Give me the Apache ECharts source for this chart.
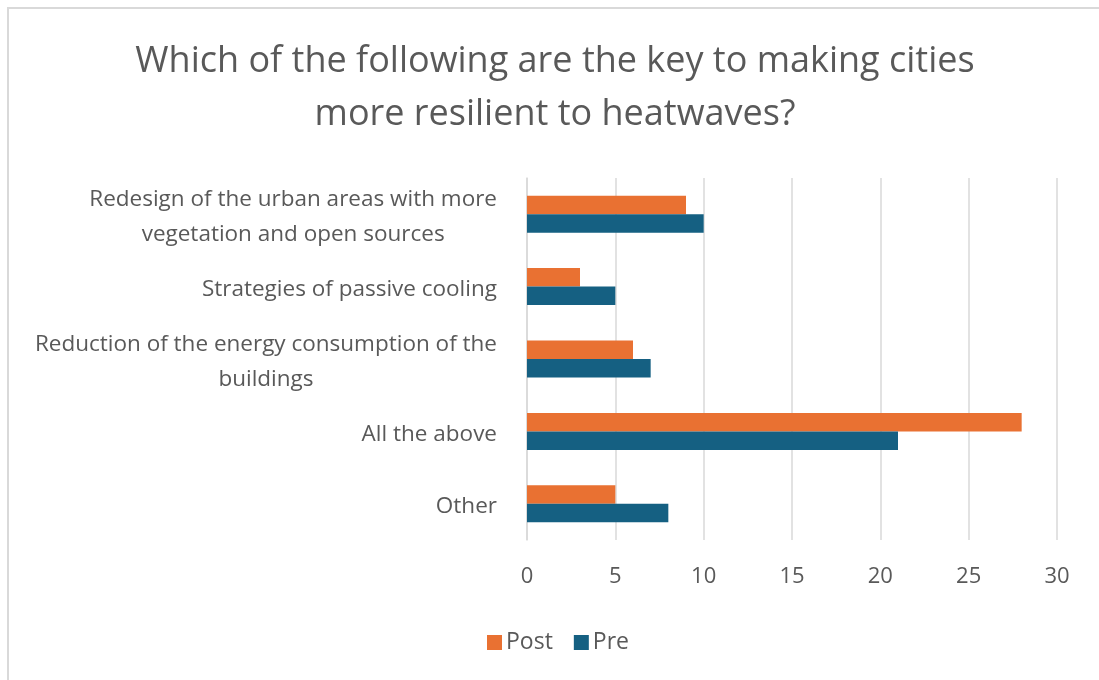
<!DOCTYPE html>
<html>
<head>
<meta charset="utf-8">
<script src="https://cdn.jsdelivr.net/npm/echarts@6/dist/echarts.min.js"></script>
<style>
  html, body { margin:0; padding:0; background:#fff; }
  #chart { width:1099px; height:680px; }
</style>
</head>
<body>
<div id="chart"></div>
<script>
// === Datos ===
const categories = [
  'Redesign of the urban areas with more\nvegetation and open sources',
  'Strategies of passive cooling',
  'Reduction of the energy consumption of the\nbuildings',
  'All the above',
  'Other'
];
const postValues = [9, 3, 6, 28, 5];
const preValues  = [10, 5, 7, 21, 8];
const xTicks = { min: 0, max: 30, interval: 5 };

// === Paleta ===
const orange = '#E97132', blue = '#156082', txt = '#595959', grid = '#d9d9d9';
const font = 'Open Sans';

const chart = echarts.init(document.getElementById('chart'));
chart.setOption({
  backgroundColor: '#fff',
  textStyle: { fontFamily: font },
  title: {
    text: 'Which of the following are the key to making cities\nmore resilient to heatwaves?',
    left: 555, top: 35, padding: 0, textAlign: 'center',
    textStyle: { fontFamily: font, fontSize: 36, fontWeight: 'normal', color: txt, lineHeight: 53 }
  },
  graphic: [{
    type: 'rect', silent: true,
    shape: { x: 8, y: 8, width: 1200, height: 800 },
    style: { fill: 'none', stroke: grid, lineWidth: 2 }
  }],
  legend: {
    data: ['Post', 'Pre'], left: 487, top: 631, padding: 0,
    icon: 'rect', itemWidth: 15, itemHeight: 15, itemGap: 21,
    textStyle: { fontFamily: font, fontSize: 23, color: txt, padding: [0, 0, 0, -1] }
  },
  grid: { left: 527, right: 42, top: 178, bottom: 140, containLabel: false, outerBoundsMode: 'none' },
  xAxis: {
    type: 'value', min: xTicks.min, max: xTicks.max, interval: xTicks.interval,
    axisLine: { show: false }, axisTick: { show: false },
    axisLabel: { color: txt, fontSize: 22, margin: 26, fontFamily: font },
    splitLine: { lineStyle: { color: grid, width: 1.5 } }
  },
  yAxis: {
    type: 'category', data: categories, inverse: true,
    axisLine: { lineStyle: { color: grid, width: 1.5 } }, axisTick: { show: false },
    axisLabel: {
      color: txt, fontSize: 22.5, margin: 30, align: 'right', lineHeight: 35, padding: [6, 0, 0, 0],
      formatter: v => v.split('\n').map(l => `{c|${l}}`).join('\n'),
      rich: { c: { align: 'center', fontSize: 22.5, color: txt, fontFamily: font, lineHeight: 35 } }
    }
  },
  series: [
    { name: 'Post', type: 'bar', data: postValues, barWidth: 18.5, barGap: '0%',
      itemStyle: { color: orange }, silent: true },
    { name: 'Pre', type: 'bar', data: preValues, barWidth: 18.5, barGap: '0%',
      itemStyle: { color: blue }, silent: true }
  ],
  animation: false
});
</script>
</body>
</html>
